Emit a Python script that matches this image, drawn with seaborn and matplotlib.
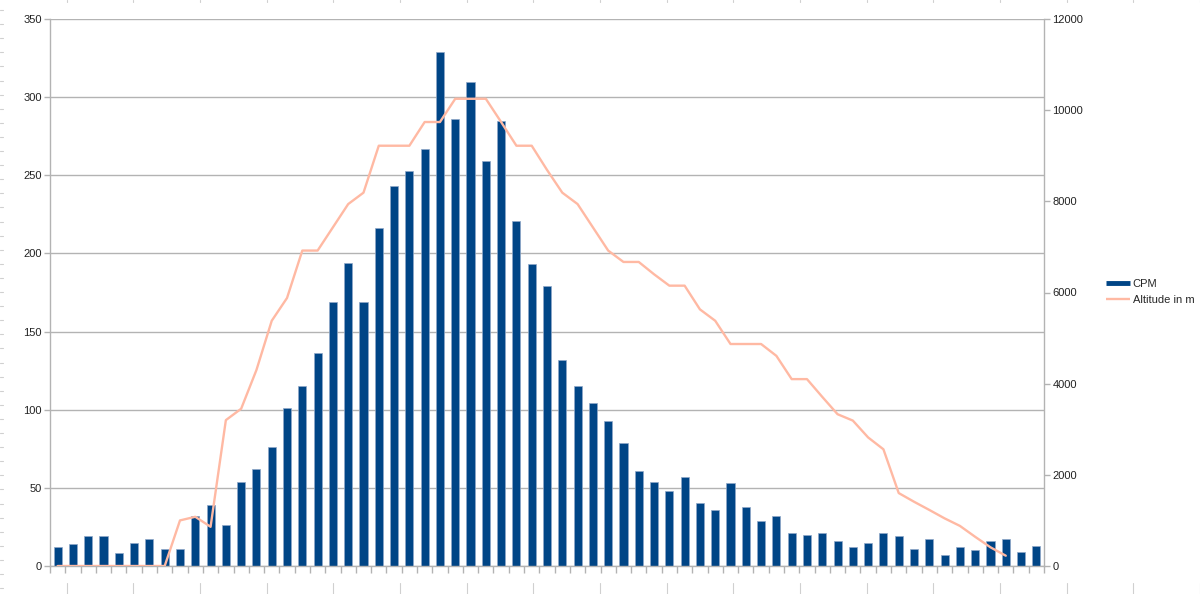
import matplotlib
matplotlib.use("Agg")
import matplotlib.pyplot as plt
import seaborn as sns
import numpy as np
import pandas as pd
from matplotlib.lines import Line2D

# counts per minute, one bar per reading
cpm = [12, 14, 19, 19, 8, 15, 17, 11, 11, 32,
       39, 26, 54, 62, 76, 101, 115, 136, 169, 194,
       169, 216, 243, 253, 267, 329, 286, 310, 259, 285,
       221, 193, 179, 132, 115, 104, 93, 79, 61, 54,
       48, 57, 40, 36, 53, 38, 29, 32, 21, 20,
       21, 16, 12, 15, 21, 19, 11, 17, 7, 12,
       10, 16, 17, 9, 13]

# altitude in metres (no reading for the last two)
altitude = [0, 0, 0, 0, 0, 0, 0, 0, 1000, 1080,
            860, 3200, 3450, 4300, 5380, 5880, 6920, 6920, 7430, 7940,
            8190, 9220, 9220, 9220, 9740, 9740, 10250, 10250, 10250, 9740,
            9220, 9220, 8690, 8190, 7940, 7430, 6920, 6670, 6670, 6400,
            6150, 6150, 5630, 5380, 4870, 4870, 4870, 4610, 4100, 4100,
            3710, 3330, 3190, 2820, 2560, 1600, 1410, 1230, 1045, 880,
            640, 410, 226, np.nan, np.nan]

df = pd.DataFrame({"n": np.arange(len(cpm)), "CPM": cpm, "Altitude in m": altitude})

BAR = "#004586"
LINE = "#ffb9a3"
GRID = "#b3b3b3"

sns.set_theme(style="white")
plt.rcParams['font.family'] = ['Liberation Sans', 'DejaVu Sans']

fig = plt.figure(figsize=(12, 5.94), dpi=100)
ax = fig.add_axes([50/1200, 1-566/594, 994/1200, 547/594])

sns.barplot(data=df, x="n", y="CPM", color=BAR, width=0.53, saturation=1,
            edgecolor="#8fa8c8", linewidth=0.5, ax=ax)
ax.set_xlim(-0.5, len(cpm) - 0.5)
ax.set_ylim(0, 350)
ax.set_yticks(np.arange(0, 351, 50))
ax.set_xticks(np.arange(len(cpm) + 1) - 0.5)
ax.set_xticklabels([])
ax.set_xlabel(""); ax.set_ylabel("")
ax.yaxis.grid(True, color=GRID, lw=1)
ax.xaxis.grid(False)
ax.set_axisbelow(True)
ax.tick_params(axis="y", length=4, width=1, color=GRID, pad=2, labelsize=8, labelcolor="#222222")
ax.tick_params(axis="x", length=5, width=1, color=GRID, direction="out")
for s in ["left", "bottom"]:
    ax.spines[s].set_color(GRID)
    ax.spines[s].set_linewidth(1)
ax.spines["top"].set_visible(False)
ax.spines["right"].set_visible(False)
ax.tick_params(left=True, bottom=True)

ax2 = ax.twinx()
sns.lineplot(data=df, x="n", y="Altitude in m", color=LINE, lw=1.7, ax=ax2, legend=False)
ax2.set_ylim(0, 12000)
ax2.set_yticks(np.arange(0, 12001, 2000))
ax2.set_ylabel("")
ax2.tick_params(axis="y", length=4, width=1, color=GRID, pad=2, labelsize=8, labelcolor="#222222", right=True)
for s in ["left", "top", "bottom"]:
    ax2.spines[s].set_visible(False)
ax2.spines["right"].set_color(GRID)
ax2.spines["right"].set_linewidth(1)
ax2.grid(False)

handles = [Line2D([], [], color=BAR, lw=3.5, solid_capstyle="butt"),
           Line2D([], [], color=LINE, lw=1.7, solid_capstyle="butt")]
fig.legend(handles, ["CPM", "Altitude in m"], loc="center left",
           bbox_to_anchor=(1106/1200, 1-292/594), frameon=False, fontsize=8,
           borderpad=0, borderaxespad=0, handlelength=2.15, handletextpad=0.25,
           labelspacing=0.5)

# spreadsheet ruler marks around the edge
for x in np.arange(66.5, 1200, 66.67):
    fig.add_artist(Line2D([x/1200, x/1200], [0, 11/594], color="#d0d0d0", lw=0.8))
    fig.add_artist(Line2D([x/1200, x/1200], [1-2/594, 1], color="#d0d0d0", lw=0.8))
for y in np.arange(10, 594, 14.1):
    fig.add_artist(Line2D([0, 3/1200], [1-y/594, 1-y/594], color="#d0d0d0", lw=0.8))

fig.savefig("out.png", dpi=100)
